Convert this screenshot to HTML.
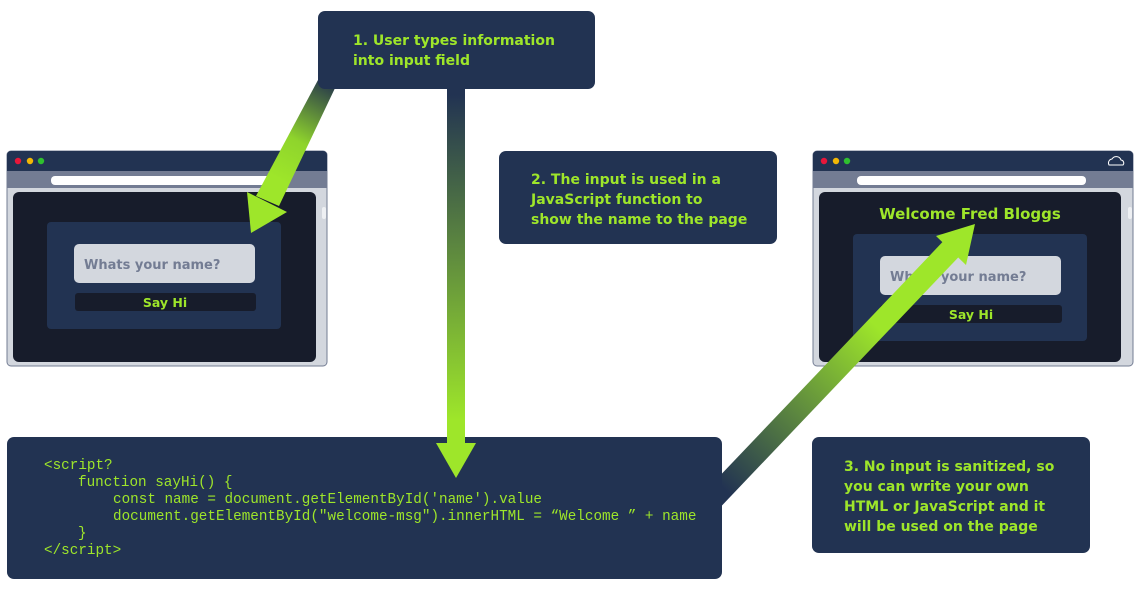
<!DOCTYPE html>
<html><head><meta charset="utf-8"><style>
html,body{margin:0;padding:0;background:#fff;}
svg{display:block;}
.t{font-family:"DejaVu Sans","Liberation Sans",sans-serif;font-weight:bold;fill:#9ee62a;font-size:14px;}
.c{font-family:"Liberation Mono","DejaVu Sans Mono",monospace;fill:#9ee62a;font-size:14.3px;}
.p{font-family:"DejaVu Sans","Liberation Sans",sans-serif;font-weight:bold;fill:#737c93;font-size:13px;}
.b{font-family:"DejaVu Sans","Liberation Sans",sans-serif;font-weight:bold;fill:#9ee62a;font-size:12.5px;}
</style></head><body>
<svg width="1140" height="591" viewBox="0 0 1140 591" xmlns="http://www.w3.org/2000/svg">
<defs>
<linearGradient id="g1" gradientUnits="userSpaceOnUse" x1="330" y1="85" x2="280" y2="180"><stop offset="0" stop-color="#2a3d4a"/><stop offset="0.6" stop-color="#8fd42c"/><stop offset="1" stop-color="#9ee62a"/></linearGradient>
<linearGradient id="g2" gradientUnits="userSpaceOnUse" x1="0" y1="95" x2="0" y2="420"><stop offset="0" stop-color="#223352"/><stop offset="1" stop-color="#9ee62a"/></linearGradient>
<linearGradient id="g3" gradientUnits="userSpaceOnUse" x1="725" y1="490" x2="880" y2="330"><stop offset="0" stop-color="#223352"/><stop offset="1" stop-color="#9ee62a"/></linearGradient>
</defs>

<!-- left browser -->
<rect x="7" y="151" width="320" height="215" rx="4" fill="#d3d7de" stroke="#737c93"/>
<path d="M7 171 V155 a4 4 0 0 1 4 -4 H323 a4 4 0 0 1 4 4 V171 Z" fill="#223352"/>
<rect x="7" y="171" width="320" height="17" fill="#737c93"/>
<rect x="51" y="176" width="224" height="9" rx="4" fill="#fff"/>
<circle cx="18" cy="161" r="3.2" fill="#e8173a"/><circle cx="30" cy="161" r="3.2" fill="#f2b705"/><circle cx="41" cy="161" r="3.2" fill="#2fc02f"/>
<rect x="13" y="192" width="303" height="170" rx="6" fill="#171c2b"/>
<rect x="322" y="207" width="4" height="12" rx="2" fill="#eef0f3"/>
<rect x="47" y="222" width="234" height="107" rx="4" fill="#223352"/>
<rect x="74" y="244" width="181" height="39" rx="5" fill="#d3d7de"/>
<text class="p" x="84" y="269">Whats your name?</text>
<rect x="75" y="293" width="181" height="18" rx="3" fill="#171c2b"/>
<text class="b" x="165" y="307" text-anchor="middle">Say Hi</text>

<!-- right browser -->
<rect x="813" y="151" width="320" height="215" rx="4" fill="#d3d7de" stroke="#737c93"/>
<path d="M813 171 V155 a4 4 0 0 1 4 -4 H1129 a4 4 0 0 1 4 4 V171 Z" fill="#223352"/>
<rect x="813" y="171" width="320" height="17" fill="#737c93"/>
<rect x="857" y="176" width="229" height="9" rx="4" fill="#fff"/>
<circle cx="824" cy="161" r="3.2" fill="#e8173a"/><circle cx="836" cy="161" r="3.2" fill="#f2b705"/><circle cx="847" cy="161" r="3.2" fill="#2fc02f"/>
<path d="M1109 165 a4 4 0 0 1 3 -6 a5 5 0 0 1 9 1 a3 3 0 0 1 2 5 Z" fill="none" stroke="#fff" stroke-width="1"/>
<rect x="819" y="192" width="302" height="170" rx="6" fill="#171c2b"/>
<rect x="1128" y="207" width="4" height="12" rx="2" fill="#eef0f3"/>
<text class="t" x="970" y="219" text-anchor="middle" style="font-size:15px">Welcome Fred Bloggs</text>
<rect x="853" y="234" width="234" height="107" rx="4" fill="#223352"/>
<rect x="880" y="256" width="181" height="39" rx="5" fill="#d3d7de"/>
<text class="p" x="890" y="281">Whats your name?</text>
<rect x="880" y="305" width="182" height="18" rx="3" fill="#171c2b"/>
<text class="b" x="971" y="319" text-anchor="middle">Say Hi</text>

<!-- arrow 1 -->
<polygon points="318,80 336,86 279,206 256,196" fill="url(#g1)"/>
<polygon points="247,192 287,212 251,233" fill="#9ee62a"/>

<!-- arrow 3 -->
<line x1="712" y1="500" x2="952" y2="248" stroke="url(#g3)" stroke-width="22"/>
<polygon points="936,236 966,265 975,224" fill="#9ee62a"/>

<!-- box 1 -->
<rect x="318" y="11" width="277" height="78" rx="7" fill="#223352"/>
<text class="t" x="353" y="45">1. User types information</text>
<text class="t" x="353" y="65">into input field</text>

<!-- box 2 -->
<rect x="499" y="151" width="278" height="93" rx="7" fill="#223352"/>
<text class="t" x="531" y="184">2. The input is used in a</text>
<text class="t" x="531" y="204">JavaScript function to</text>
<text class="t" x="531" y="224">show the name to the page</text>

<!-- code box -->
<rect x="7" y="437" width="715" height="142" rx="7" fill="#223352"/>
<text class="c" x="44" y="469">&lt;script?</text>
<text class="c" x="78" y="486">function sayHi() {</text>
<text class="c" x="113" y="503">const name = document.getElementById('name').value</text>
<text class="c" x="113" y="520">document.getElementById("welcome-msg").innerHTML = “Welcome ” + name</text>
<text class="c" x="78" y="537">}</text>
<text class="c" x="44" y="554">&lt;/script&gt;</text>

<!-- arrow 2 -->
<rect x="447" y="89" width="18" height="356" fill="url(#g2)"/>
<polygon points="436,443 476,443 456,478" fill="#9ee62a"/>

<!-- box 3 -->
<rect x="812" y="437" width="278" height="116" rx="7" fill="#223352"/>
<text class="t" x="844" y="471">3. No input is sanitized, so</text>
<text class="t" x="844" y="491">you can write your own</text>
<text class="t" x="844" y="511">HTML or JavaScript and it</text>
<text class="t" x="844" y="531">will be used on the page</text>
</svg>
</body></html>
